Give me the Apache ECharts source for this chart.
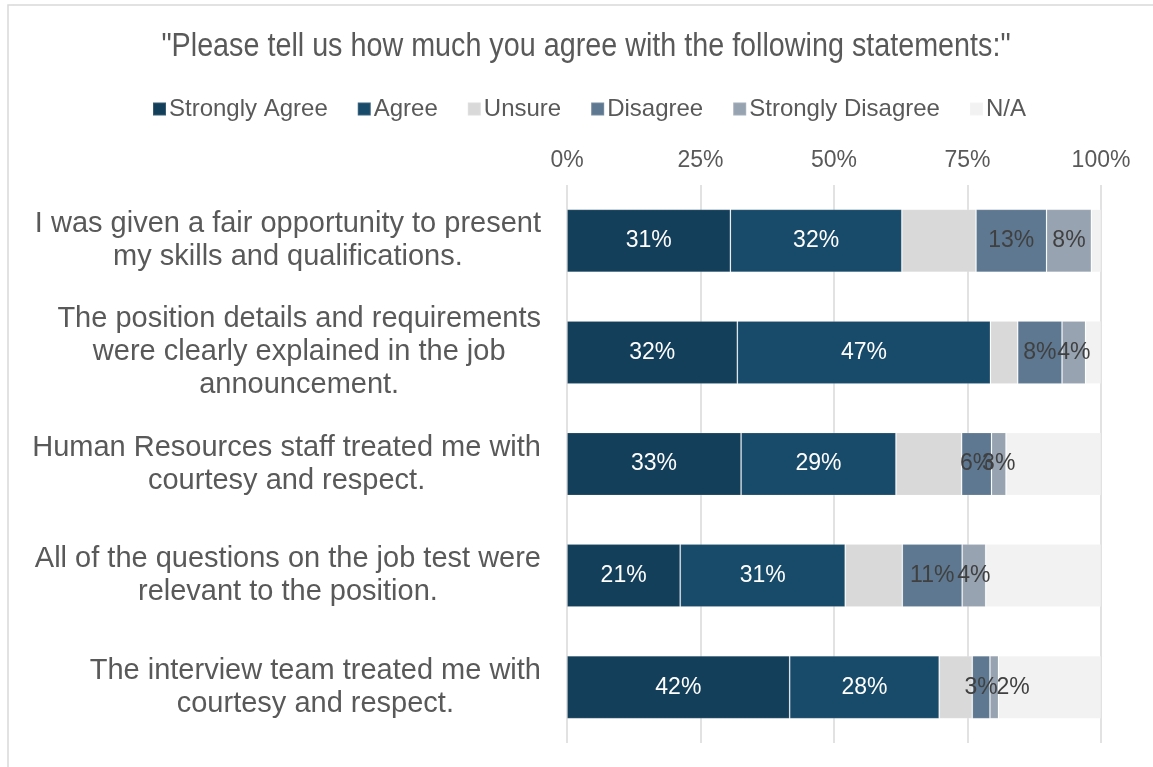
<!DOCTYPE html>
<html>
<head>
<meta charset="utf-8">
<script src="https://cdn.jsdelivr.net/npm/echarts@6/dist/echarts.min.js"></script>
<style>
  html, body { margin: 0; padding: 0; background: #ffffff; }
  #chart { width: 1153px; height: 767px; }
</style>
</head>
<body>
<div id="chart"></div>
<script>
// statements (line breaks as in the picture)
const statements = [
  'I was given a fair opportunity to present\nmy skills and qualifications.',
  'The position details and requirements\nwere clearly explained in the job\nannouncement.',
  'Human Resources staff treated me with\ncourtesy and respect.',
  'All of the questions on the job test were\nrelevant to the position.',
  'The interview team treated me with\ncourtesy and respect.'
]

// shares in percent
const stronglyAgree = [30.6, 31.9, 32.6, 21.2, 41.7]
const agree = [32.1, 47.4, 29.0, 30.9, 28.0]
const unsure = [13.9, 5.1, 12.3, 10.7, 6.2]
const disagree = [13.2, 8.3, 5.6, 11.2, 3.3]
const stronglyDisagree = [8.4, 4.4, 2.7, 4.4, 1.6]
const notApplicable = [1.8, 2.9, 17.8, 21.6, 19.2]

const answerNames = ['Strongly Agree', 'Agree', 'Unsure', 'Disagree', 'Strongly Disagree', 'N/A']
const answerColors = ['#143f5a', '#184a69', '#d9d9d9', '#5d7890', '#97a3b1', '#f2f2f2']
const axisTicks = [0, 25, 50, 75, 100]
const titleText = '"Please tell us how much you agree with the following statements:"'

const FONT = "'Liberation Sans', Arial, sans-serif"
const GREY = '#595959'

function barSeries (name, data, color, labelColor) {
  return {
    name: name,
    type: 'bar',
    stack: 'total',
    data: data,
    barWidth: 63,
    itemStyle: { color: color, borderColor: 'rgba(255,255,255,0.15)', borderWidth: 1 },
    label: {
      show: labelColor !== null,
      position: 'inside',
      color: labelColor || GREY,
      fontFamily: FONT,
      fontSize: 23,
      formatter: p => Math.round(p.value) + '%'
    },
    // very thin segments push their label to the right, like the original
    labelLayout: p => (p.rect.width < 10 ? { dx: 19 } : {}),
    emphasis: { disabled: true }
  }
}

let myChart = echarts.init(document.getElementById('chart'))
let option = {
  animation: false,
  backgroundColor: '#ffffff',
  graphic: [{
    type: 'rect',
    shape: { x: 8, y: 5, width: 1200, height: 800 },
    style: { fill: 'none', stroke: '#d9d9d9', lineWidth: 1.5 },
    z: -1
  }, {
    // condensed title: no narrow face installed, so squeeze the regular one
    type: 'text',
    x: 586,
    y: 47,
    scaleX: 0.845,
    style: {
      text: titleText,
      font: "normal 34px 'Liberation Sans', Arial, sans-serif",
      fill: GREY,
      align: 'center',
      verticalAlign: 'middle'
    }
  }],
  legend: {
    data: answerNames,
    top: 92,
    left: 147,
    itemWidth: 13,
    itemHeight: 13,
    itemGap: 29,
    icon: 'rect',
    textStyle: { fontFamily: FONT, fontSize: 24, color: GREY, padding: [0, 0, 0, -2] }
  },
  grid: { left: 567, right: 52, top: 185, bottom: 24, containLabel: false },
  xAxis: {
    type: 'value',
    position: 'top',
    min: axisTicks[0],
    max: axisTicks[axisTicks.length - 1],
    interval: axisTicks[1] - axisTicks[0],
    axisLine: { show: false },
    axisTick: { show: false },
    splitLine: { lineStyle: { color: '#d9d9d9', width: 1.5 } },
    axisLabel: { formatter: '{value}%', fontFamily: FONT, fontSize: 23, color: GREY, margin: 13 }
  },
  yAxis: {
    type: 'category',
    data: statements,
    inverse: true,
    axisLine: { show: false },
    axisTick: { show: false },
    axisLabel: {
      margin: 26,
      formatter: v => v.split('\n').map(l => '{c|' + l + '}').join('\n'),
      rich: {
        c: { align: 'center', fontFamily: FONT, fontSize: 29, lineHeight: 33, color: GREY }
      }
    }
  },
  series: [
    barSeries(answerNames[0], stronglyAgree, answerColors[0], '#ffffff'),
    barSeries(answerNames[1], agree, answerColors[1], '#ffffff'),
    barSeries(answerNames[2], unsure, answerColors[2], null),
    barSeries(answerNames[3], disagree, answerColors[3], '#404040'),
    barSeries(answerNames[4], stronglyDisagree, answerColors[4], '#404040'),
    barSeries(answerNames[5], notApplicable, answerColors[5], null)
  ]
}
myChart.setOption(option)
</script>
</body>
</html>
